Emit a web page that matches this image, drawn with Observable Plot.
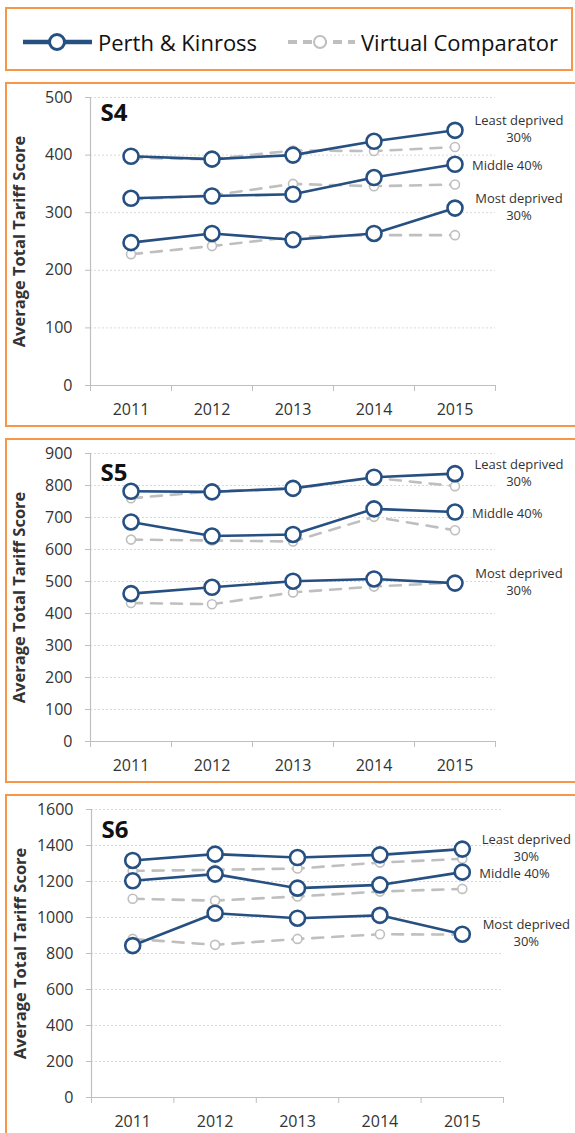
<!DOCTYPE html>
<html>
<head>
<meta charset="utf-8">
<script src="https://cdn.jsdelivr.net/npm/d3@7"></script>
<script src="https://cdn.jsdelivr.net/npm/@observablehq/plot@0.6"></script>
<style>
html, body { margin: 0; padding: 0; background: #fff; overflow: hidden; }
body { width: 575px; height: 1133px; position: relative; font-family: "Open Sans", sans-serif; }
.box { position: absolute; box-sizing: border-box; border: 2px solid #f79646; background: #fff; overflow: hidden; }
#legend { left: 5px; top: 7px; width: 568px; height: 64px; }
.panel { left: 5px; width: 580px; height: 345px; }
svg { display: block; }
</style>
</head>
<body>
<div id="legend" class="box"></div>
<div id="p1" class="box panel" style="top:82px"></div>
<div id="p2" class="box panel" style="top:438px"></div>
<div id="p3" class="box panel" style="top:794px"></div>
<script>
// ---- data ----
const years = [2011, 2012, 2013, 2014, 2015];
const groups = ["Least deprived", "Middle 40%", "Most deprived"];
const groupLabels = ["Least deprived\n30%", "Middle 40%", "Most deprived\n30%"];
const seriesNames = ["Perth & Kinross", "Virtual Comparator"];

// S4
const s4PkLeast  = [398, 393, 400, 424, 443];
const s4PkMiddle = [325, 329, 332, 361, 384];
const s4PkMost   = [248, 264, 253, 264, 308];
const s4VcLeast  = [395, 393, 408, 407, 414];
const s4VcMiddle = [323, 330, 350, 346, 349];
const s4VcMost   = [228, 242, 258, 261, 261];
const s4Ticks = [0, 100, 200, 300, 400, 500];

// S5
const s5PkLeast  = [782, 780, 791, 826, 837];
const s5PkMiddle = [686, 642, 647, 727, 717];
const s5PkMost   = [462, 482, 501, 508, 495];
const s5VcLeast  = [760, 782, 790, 824, 798];
const s5VcMiddle = [631, 628, 625, 702, 660];
const s5VcMost   = [433, 429, 466, 484, 497];
const s5Ticks = [0, 100, 200, 300, 400, 500, 600, 700, 800, 900];

// S6
const s6PkLeast  = [1317, 1352, 1333, 1348, 1380];
const s6PkMiddle = [1204, 1241, 1163, 1181, 1252];
const s6PkMost   = [844, 1024, 996, 1012, 907];
const s6VcLeast  = [1259, 1265, 1272, 1305, 1326];
const s6VcMiddle = [1104, 1094, 1117, 1144, 1159];
const s6VcMost   = [881, 848, 881, 907, 905];
const s6Ticks = [0, 200, 400, 600, 800, 1000, 1200, 1400, 1600];

const yTitle = "Average Total Tariff Score";

// ---- styles ----
const PK_COLOR = "#264f82";
const VC_COLOR = "#bfbfbf";
const AXIS_COLOR = "#bfbfbf";
const GRID_COLOR = "#d9d9d9";
const TEXT_COLOR = "#333333";
const FONT = "'Open Sans', sans-serif";

function rows(pk, vc) {
  const out = [];
  [pk, vc].forEach((set, s) => {
    set.forEach((vals, g) => {
      vals.forEach((v, i) => out.push({source: seriesNames[s], group: groups[g], label: groupLabels[g], year: years[i], value: v}));
    });
  });
  return out;
}

function drawPanel(el, cfg) {
  const data = rows(cfg.pk, cfg.vc);
  const pk = data.filter(d => d.source === seriesNames[0]);
  const vc = data.filter(d => d.source === seriesNames[1]);
  const last = pk.filter(d => d.year === years[years.length - 1]);
  const bounds = years.map(y => y - 0.5).concat([years[years.length - 1] + 0.5]);
  const chart = Plot.plot({
    width: 576,
    height: 341,
    marginTop: 13,
    marginBottom: 40,
    marginLeft: cfg.marginLeft,
    marginRight: cfg.marginRight,
    style: {fontFamily: FONT, color: TEXT_COLOR, background: "transparent", overflow: "visible"},
    x: {type: "linear", domain: [bounds[0], bounds[bounds.length - 1]]},
    y: {domain: [cfg.ticks[0], cfg.ticks[cfg.ticks.length - 1]]},
    marks: [
      Plot.ruleY(cfg.ticks.filter(t => t > 0), {stroke: GRID_COLOR, strokeDasharray: "2,2"}),
      Plot.ruleY([0], {stroke: AXIS_COLOR, strokeWidth: 1.2}),
      Plot.frame({anchor: "left", stroke: AXIS_COLOR, strokeWidth: 1.2}),
      Plot.axisY({ticks: cfg.ticks, tickSize: 5, tickPadding: 13, tickFormat: d => String(d), stroke: AXIS_COLOR, fill: TEXT_COLOR, fontSize: 16, label: null}),
      Plot.axisX({ticks: bounds, tickSize: 6, tickFormat: () => "", stroke: AXIS_COLOR, label: null}),
      Plot.axisX({ticks: years, tickSize: 0, tickPadding: 18, tickFormat: d => String(d), fill: TEXT_COLOR, fontSize: 16, label: null}),
      Plot.text([yTitle], {frameAnchor: "left", dx: -71, rotate: -90, fontSize: 16.5, fontWeight: "bold", fill: TEXT_COLOR, textAnchor: "middle"}),
      Plot.text([cfg.title], {frameAnchor: "top-left", dx: 10, dy: cfg.titleDy, lineAnchor: "top", textAnchor: "start", fontSize: 24, fontWeight: "bold", fill: "#111"}),
      Plot.line(vc, {x: "year", y: "value", z: "group", stroke: VC_COLOR, strokeWidth: 2.6, strokeDasharray: "11,9"}),
      Plot.dot(vc, {x: "year", y: "value", r: 4.5, fill: "white", stroke: VC_COLOR, strokeWidth: 1.6}),
      Plot.line(pk, {x: "year", y: "value", z: "group", stroke: PK_COLOR, strokeWidth: 2.6}),
      Plot.dot(pk, {x: "year", y: "value", r: 7.5, fill: "white", stroke: PK_COLOR, strokeWidth: 2.6}),
      Plot.text(last.filter(d => d.group !== groups[1]), {x: "year", y: "value", text: "label", dx: 64, dy: -2, textAnchor: "middle", lineAnchor: "middle", lineHeight: 1.3, fontSize: 13, fill: TEXT_COLOR}),
      Plot.text(last.filter(d => d.group === groups[1]), {x: "year", y: "value", text: "label", dx: 17, dy: 2, textAnchor: "start", lineAnchor: "middle", fontSize: 13, fill: TEXT_COLOR})
    ]
  });
  el.appendChild(chart);
}

drawPanel(document.getElementById("p1"), {title: "S4", ticks: s4Ticks, pk: [s4PkLeast, s4PkMiddle, s4PkMost], vc: [s4VcLeast, s4VcMiddle, s4VcMost], marginLeft: 83, marginRight: 88, titleDy: 6});
drawPanel(document.getElementById("p2"), {title: "S5", ticks: s5Ticks, pk: [s5PkLeast, s5PkMiddle, s5PkMost], vc: [s5VcLeast, s5VcMiddle, s5VcMost], marginLeft: 83, marginRight: 88, titleDy: 10});
drawPanel(document.getElementById("p3"), {title: "S6", ticks: s6Ticks, pk: [s6PkLeast, s6PkMiddle, s6PkMost], vc: [s6VcLeast, s6VcMiddle, s6VcMost], marginLeft: 84, marginRight: 80, titleDy: 11});

// ---- legend ----
(function () {
  const ns = "http://www.w3.org/2000/svg";
  const svg = document.createElementNS(ns, "svg");
  svg.setAttribute("width", 564);
  svg.setAttribute("height", 60);
  const cy = 33;
  function el(tag, attrs) {
    const e = document.createElementNS(ns, tag);
    for (const k in attrs) e.setAttribute(k, attrs[k]);
    svg.appendChild(e);
    return e;
  }
  el("line", {x1: 16, x2: 85, y1: cy, y2: cy, stroke: PK_COLOR, "stroke-width": 4.5});
  el("circle", {cx: 50, cy: cy, r: 7.5, fill: "white", stroke: PK_COLOR, "stroke-width": 3});
  const t1 = el("text", {x: 91, y: cy, "dominant-baseline": "central", "font-size": 22, fill: "#111", "font-family": FONT});
  t1.textContent = seriesNames[0];
  el("line", {x1: 281, x2: 348, y1: cy, y2: cy, stroke: VC_COLOR, "stroke-width": 4, "stroke-dasharray": "9,6"});
  el("circle", {cx: 313, cy: cy, r: 6, fill: "white", stroke: VC_COLOR, "stroke-width": 2});
  const t2 = el("text", {x: 354, y: cy, "dominant-baseline": "central", "font-size": 22, fill: "#111", "font-family": FONT});
  t2.textContent = seriesNames[1];
  document.getElementById("legend").appendChild(svg);
})();
</script>
</body>
</html>
